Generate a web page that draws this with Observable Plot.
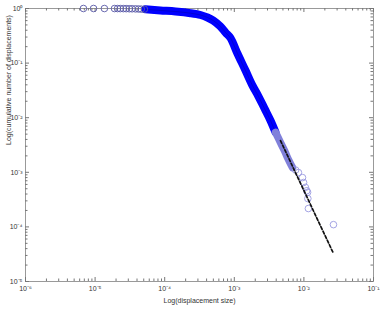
<!DOCTYPE html>
<html><head><meta charset="utf-8">
<script src="https://cdn.jsdelivr.net/npm/d3@7"></script>
<script src="https://cdn.jsdelivr.net/npm/@observablehq/plot@0.6"></script>
<style>body{margin:0;background:#fff;}</style>
</head><body><div id="chart"></div>
<script>
// Axis ticks and labels
const xTicks = [1e-6, 1e-5, 1e-4, 1e-3, 1e-2, 1e-1];
const xTickLabels = ["10⁻⁶", "10⁻⁵", "10⁻⁴", "10⁻³", "10⁻²", "10⁻¹"];
const yTicks = [1e-5, 1e-4, 1e-3, 1e-2, 1e-1, 1];
const yTickLabels = ["10⁻⁵", "10⁻⁴", "10⁻³", "10⁻²", "10⁻¹", "10⁰"];
const xLabel = "Log(displacement size)";
const yLabel = "Log(cumulative number of displacements)";

// Sparse circles at small displacement sizes
const headX = [6.8e-6, 9.5e-6, 1.36e-5, 1.9e-5, 2.1e-5, 2.3e-5, 2.55e-5, 2.8e-5, 3.1e-5, 3.4e-5, 3.8e-5, 4.2e-5, 4.6e-5, 5.1e-5];
const headY = [1, 1, 0.999, 0.998, 0.997, 0.996, 0.995, 0.993, 0.99, 0.988, 0.985, 0.98, 0.975, 0.97];

// Dense part of the distribution (overlapping circles form a solid band)
const bandX = [5.3e-5, 8.7e-5, 1.43e-4, 2.35e-4, 3.27e-4, 4.12e-4, 5.0e-4, 6.3e-4, 7.5e-4, 8.8e-4, 1.11e-3, 1.45e-3, 1.82e-3, 2.23e-3, 2.72e-3, 3.31e-3, 3.91e-3];
const bandY = [0.966, 0.92, 0.88, 0.82, 0.76, 0.684, 0.60, 0.47, 0.363, 0.29, 0.15, 0.073, 0.039, 0.0244, 0.0147, 0.0089, 0.0054];

// Thinning part of the band
const fadeX = [3.91e-3, 4.61e-3, 5.26e-3, 5.8e-3, 6.86e-3];
const fadeY = [0.0054, 0.0035, 0.0025, 0.00187, 0.00122];

// Tail circles
const tailX = [7.6e-3, 8.35e-3, 9.55e-3, 9.9e-3, 1.05e-2, 1.1e-2, 1.13e-2, 1.14e-2, 1.16e-2, 2.66e-2];
const tailY = [1.1e-3, 9.9e-4, 8.0e-4, 6.5e-4, 5.3e-4, 4.6e-4, 4.3e-4, 3.3e-4, 2.17e-4, 1.1e-4];

// Power-law fit (dashed)
const fitX = [4.61e-3, 2.66e-2];
const fitY = [3.8e-3, 3.26e-5];

const zip = (xs, ys) => xs.map((x, i) => ({x, y: ys[i]}));
const head = zip(headX, headY), band = zip(bandX, bandY), fade = zip(fadeX, fadeY), tail = zip(tailX, tailY), fit = zip(fitX, fitY);

const W = 380, H = 312, mL = 25, mR = 7, mT = 8, mB = 31;
const pw = W - mL - mR, ph = H - mT - mB;
const minorX = [], minorY = [];
for (let e = -6; e < -1; e++) for (let m = 2; m <= 9; m++) minorX.push(m * 10 ** e);
for (let e = -5; e < 0; e++) for (let m = 2; m <= 9; m++) minorY.push(m * 10 ** e);
const tickC = "#777";

const chart = Plot.plot({
  width: W, height: H,
  marginLeft: mL, marginRight: mR, marginTop: mT, marginBottom: mB,
  style: {fontFamily: "'Liberation Sans', Arial, sans-serif", fontSize: "7px", color: "#333", background: "#fff"},
  x: {type: "log", domain: [1e-6, 1e-1]},
  y: {type: "log", domain: [1e-5, 1]},
  marks: [
    Plot.frame({stroke: "#999"}),
    // inward ticks, bottom/top
    Plot.ruleX(xTicks, {insetTop: ph - 4, stroke: tickC}),
    Plot.ruleX(minorX, {insetTop: ph - 2.5, stroke: tickC}),
    Plot.ruleX(xTicks, {insetBottom: ph - 4, stroke: tickC}),
    Plot.ruleX(minorX, {insetBottom: ph - 2.5, stroke: tickC}),
    // inward ticks, left/right
    Plot.ruleY(yTicks, {insetRight: pw - 4, stroke: tickC}),
    Plot.ruleY(minorY, {insetRight: pw - 2.5, stroke: tickC}),
    Plot.ruleY(yTicks, {insetLeft: pw - 4, stroke: tickC}),
    Plot.ruleY(minorY, {insetLeft: pw - 2.5, stroke: tickC}),
    Plot.axisX(xTicks, {tickSize: 0, tickPadding: 5, tickFormat: d => xTickLabels[xTicks.indexOf(d)], label: null, fill: "#333"}),
    Plot.axisY(yTicks, {tickSize: 0, tickPadding: 3, tickFormat: d => yTickLabels[yTicks.indexOf(d)], label: null, fill: "#333"}),
    Plot.text([xLabel], {text: d => d, frameAnchor: "bottom", dy: 21, fill: "#333"}),
    Plot.text([yLabel], {text: d => d, frameAnchor: "left", rotate: -90, dx: -17, fill: "#333"}),
    // data
    Plot.line(band, {x: "x", y: "y", stroke: "#0000ff", strokeWidth: 8, curve: "catmull-rom"}),
    Plot.line(band, {x: "x", y: "y", stroke: "#0000a8", strokeWidth: 1, strokeOpacity: 0.5, curve: "catmull-rom"}),
    Plot.line(fade, {x: "x", y: "y", stroke: "#8080da", strokeWidth: 7.5, curve: "catmull-rom"}),
    Plot.dot(head, {x: "x", y: "y", r: 3.3, stroke: "#5a5aa8", strokeWidth: 0.9, fill: "none"}),
    Plot.dot(tail, {x: "x", y: "y", r: 3.3, stroke: "#9a9ae0", strokeWidth: 0.9, fill: "none"}),
    Plot.line(fit, {x: "x", y: "y", stroke: "#111", strokeWidth: 1.7, strokeDasharray: "3,2"})
  ]
});
document.getElementById("chart").appendChild(chart);
</script>
</body></html>
